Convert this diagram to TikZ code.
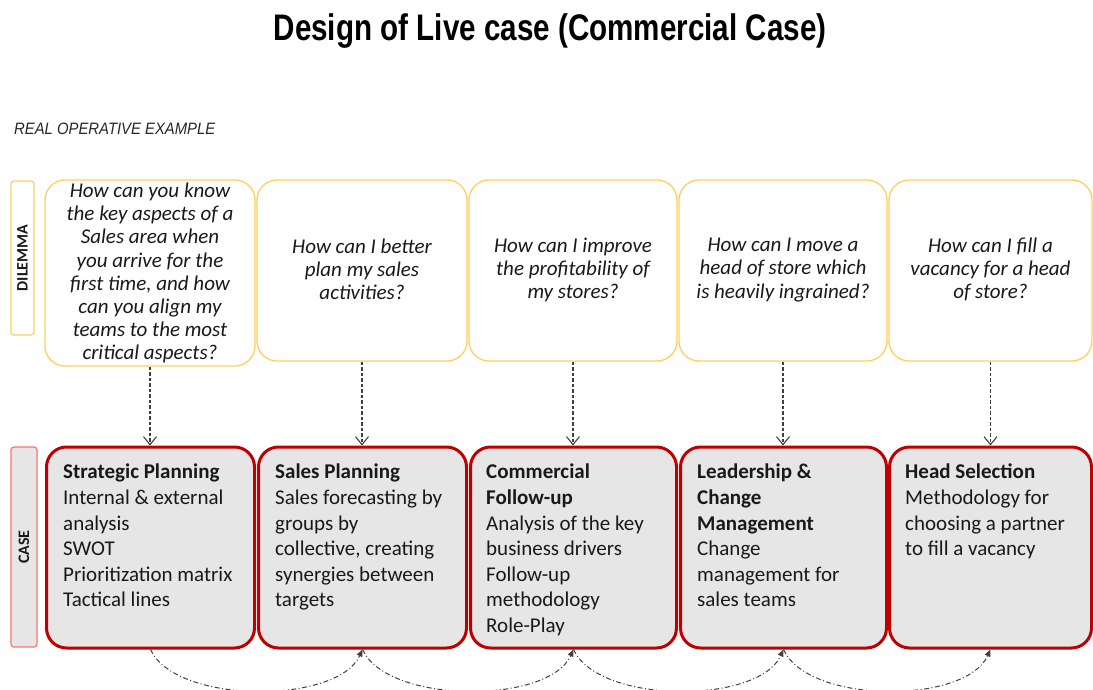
\documentclass[tikz,border=0pt]{standalone}
\usepackage{fontspec}
\setmainfont{Carlito}
\newfontfamily\titlefont[FakeStretch=0.8]{Liberation Sans}
\newfontfamily\arialfont[FakeStretch=0.9]{Liberation Sans}
\usetikzlibrary{arrows.meta}
\definecolor{dyellow}{HTML}{FFD05C}
\definecolor{cred}{HTML}{C00000}
\definecolor{cgray}{HTML}{E6E6E6}
\definecolor{lred}{HTML}{FF7070}
\definecolor{arrgray}{HTML}{404040}
\begin{document}
\begin{tikzpicture}[x=1pt,y=-1pt,
  dbox/.style={draw=dyellow, line width=1.3pt, rounded corners=20pt, fill=white, inner sep=0pt,
    align=center, text=black!90, font=\fontsize{21}{23.2}\selectfont\itshape},
  cbox/.style={draw=cred, line width=3pt, rounded corners=20pt, fill=cgray, inner sep=0pt},
  ctext/.style={anchor=north west, inner sep=0pt, align=left, text=black!90,
    font=\fontsize{21}{25.6}\selectfont},
  sidelab/.style={rotate=90, inner sep=0pt, rounded corners=3pt, line width=1.2pt,
    font=\fontsize{16}{16}\selectfont\bfseries, text=black!90},
  downarr/.style={draw=arrgray, line width=1.1pt, dash pattern=on 3.5pt off 2pt,
    -{Straight Barb[length=8pt,width=13pt,line width=1.1pt]}},
  looparr/.style={draw=arrgray, line width=1pt, dash pattern=on 5pt off 2.5pt on 1pt off 2.5pt,
    -{Triangle[length=7pt,width=6pt]}}]
\useasboundingbox (0,0) rectangle (1093,690);

\node[font=\titlefont\bfseries\fontsize{37}{40}\selectfont, inner sep=0pt] (title) at (550,31) {Design of Live case (Commercial Case)};
\node[anchor=west, inner sep=0pt, font=\arialfont\itshape\fontsize{16.5}{18}\selectfont, text=black!85] (sub) at (14,129) {REAL OPERATIVE EXAMPLE};

% side labels
\node[sidelab, draw=dyellow, fill=white, minimum width=154pt, minimum height=23pt] (dlab) at (22.5,258) {DILEMMA};
\node[sidelab, draw=lred, fill=cgray, minimum width=200pt, minimum height=26pt] (clab) at (24,547) {CASE};

% dilemma boxes
\node[dbox, minimum width=210pt, minimum height=186pt] (d1) at (150,273) {How can you know\\the key aspects of a\\Sales area when\\you arrive for the\\first time, and how\\can you align my\\teams to the most\\critical aspects?};
\node[dbox, minimum width=210pt, minimum height=181pt] (d2) at (362,270.5) {};
\node[dbox, minimum width=208pt, minimum height=181pt] (d3) at (573,270.5) {};
\node[dbox, minimum width=208pt, minimum height=181pt] (d4) at (783,270.5) {};
\node[dbox, minimum width=203pt, minimum height=181pt] (d5) at (990.5,270.5) {};
\node[dbox, draw=none, fill=none] (q2) at (362,269.5) {How can I better\\plan my sales\\activities?};
\node[dbox, draw=none, fill=none] (q3) at (573,270) {How can I improve\\the profitability of\\my stores?};
\node[dbox, draw=none, fill=none] (q4) at (783,270) {How can I move a\\head of store which\\is heavily ingrained?};
\node[dbox, draw=none, fill=none] (q5) at (990.5,269.5) {How can I fill a\\vacancy for a head\\of store?};

% case boxes
\node[cbox, minimum width=208pt, minimum height=201pt] (c1) at (150.5,547.5) {};
\node[cbox, minimum width=208pt, minimum height=201pt] (c2) at (362.5,547.5) {};
\node[cbox, minimum width=206pt, minimum height=201pt] (c3) at (573.5,547.5) {};
\node[cbox, minimum width=206pt, minimum height=201pt] (c4) at (783.5,547.5) {};
\node[cbox, minimum width=202pt, minimum height=201pt] (c5) at (990.5,547.5) {};

\node[ctext] (t1) at (63,464) {\textbf{Strategic Planning}\\Internal \& external\\analysis\\SWOT\\Prioritization matrix\\Tactical lines};
\node[ctext] (t2) at (275,464) {\textbf{Sales Planning}\\Sales forecasting by\\groups by\\collective, creating\\synergies between\\targets};
\node[ctext] (t3) at (486,464) {\textbf{Commercial}\\\textbf{Follow-up}\\Analysis of the key\\business drivers\\Follow-up\\methodology\\Role-Play};
\node[ctext] (t4) at (697,464) {\textbf{Leadership \&}\\\textbf{Change}\\\textbf{Management}\\Change\\management for\\sales teams};
\node[ctext] (t5) at (905,464) {\textbf{Head Selection}\\Methodology for\\choosing a partner\\to fill a vacancy};

% vertical arrows
\foreach \i in {1,...,5}{
  \draw[downarr] (d\i.south) -- (d\i.south |- c\i.north);
}

% bottom loop arrows
\draw[looparr] (c1.south) .. controls +(25,55) and +(-25,55) .. (c2.south);
\draw[looparr] (c2.south) .. controls +(25,55) and +(-25,55) .. (c3.south);
\draw[looparr] (c3.south) .. controls +(25,55) and +(-25,55) .. (c4.south);
\draw[looparr] (c4.south) .. controls +(25,55) and +(-25,55) .. (c5.south);
\end{tikzpicture}
\end{document}
